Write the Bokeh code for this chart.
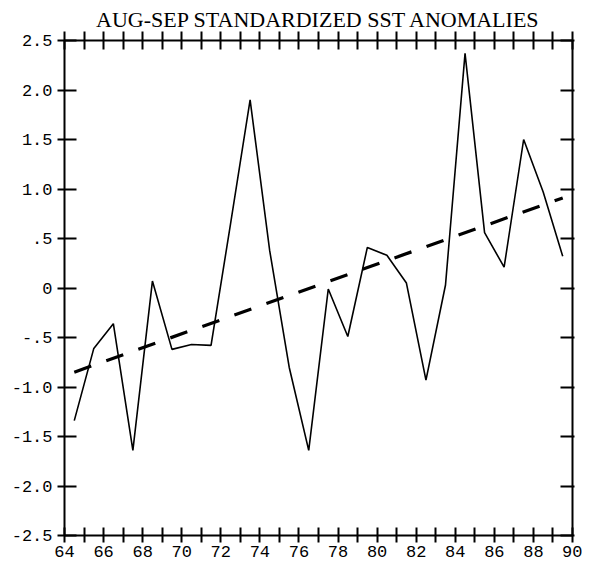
from bokeh.plotting import figure
from bokeh.models import Range1d, LinearAxis, FixedTicker, Title
from bokeh.embed import file_html
from bokeh.resources import INLINE

# Data
years = [64.5, 65.5, 66.5, 67.5, 68.5, 69.5, 70.5, 71.5, 72.5, 73.5,
         74.5, 75.5, 76.5, 77.5, 78.5, 79.5, 80.5, 81.5, 82.5, 83.5,
         84.5, 85.5, 86.5, 87.5, 88.5, 89.5]
anomalies = [-1.34, -0.61, -0.36, -1.64, 0.07, -0.62, -0.57, -0.58, 0.65, 1.90,
             0.38, -0.80, -1.64, -0.01, -0.49, 0.41, 0.33, 0.05, -0.93, 0.03,
             2.37, 0.56, 0.21, 1.50, 0.97, 0.32]
trend_x = [64.5, 89.5]
trend_y = [-0.85, 0.91]

x_major = [64, 66, 68, 70, 72, 74, 76, 78, 80, 82, 84, 86, 88, 90]
x_minor = [65, 67, 69, 71, 73, 75, 77, 79, 81, 83, 85, 87, 89]
y_ticks = [-2.5, -2.0, -1.5, -1.0, -0.5, 0.0, 0.5, 1.0, 1.5, 2.0, 2.5]
y_labels = ["-2.5", "-2.0", "-1.5", "-1.0", "-.5", "0", ".5", "1.0", "1.5", "2.0", "2.5"]
title_text = "AUG-SEP STANDARDIZED SST ANOMALIES"

MONO = "Liberation Mono"
SERIF = "Liberation Serif"

p = figure(width=582, height=562, output_backend="svg", toolbar_location=None,
           x_range=Range1d(64, 90), y_range=Range1d(-2.5, 2.5),
           x_axis_location=None, y_axis_location=None,
           min_border_left=64, min_border_right=10,
           min_border_top=40, min_border_bottom=27)
p.grid.visible = False
p.outline_line_color = None
p.background_fill_color = "white"
p.border_fill_color = "white"

p.title = Title(text=title_text, align="center", text_font=SERIF,
                text_font_size="22px", text_font_style="normal",
                text_color="black", standoff=0, offset=0)


def style_axis(ax, tin, tout):
    ax.axis_line_color = "black"
    ax.axis_line_width = 2
    ax.major_tick_line_color = "black"
    ax.major_tick_line_width = 2
    ax.minor_tick_line_color = "black"
    ax.minor_tick_line_width = 2
    ax.major_tick_in = tin
    ax.major_tick_out = tout
    ax.minor_tick_in = tin
    ax.minor_tick_out = tout
    ax.major_label_text_font = MONO
    ax.major_label_text_color = "black"
    ax.major_label_text_font_size = "17px"


xb = LinearAxis(ticker=FixedTicker(ticks=x_major, minor_ticks=x_minor))
style_axis(xb, 8, 7)
xb.major_label_standoff = 3
p.add_layout(xb, "below")

xt = LinearAxis(ticker=FixedTicker(ticks=x_major, minor_ticks=x_minor),
                major_label_overrides={t: "" for t in x_major})
style_axis(xt, 9, 9)
xt.major_label_standoff = 0
p.add_layout(xt, "above")

yl = LinearAxis(ticker=FixedTicker(ticks=y_ticks, minor_ticks=[]),
                major_label_overrides={t: s for t, s in zip(y_ticks, y_labels)})
style_axis(yl, 12, 7)
yl.major_label_standoff = 5
p.add_layout(yl, "left")

yr = LinearAxis(ticker=FixedTicker(ticks=y_ticks, minor_ticks=[]),
                major_label_overrides={t: "" for t in y_ticks})
style_axis(yr, 12, 2)
yr.major_label_standoff = 0
p.add_layout(yr, "right")

p.line(years, anomalies, line_color="black", line_width=1.6)
p.line(trend_x, trend_y, line_color="black", line_width=3.2, line_dash="18 16")

open("out.html", "w").write(file_html(p, INLINE))
